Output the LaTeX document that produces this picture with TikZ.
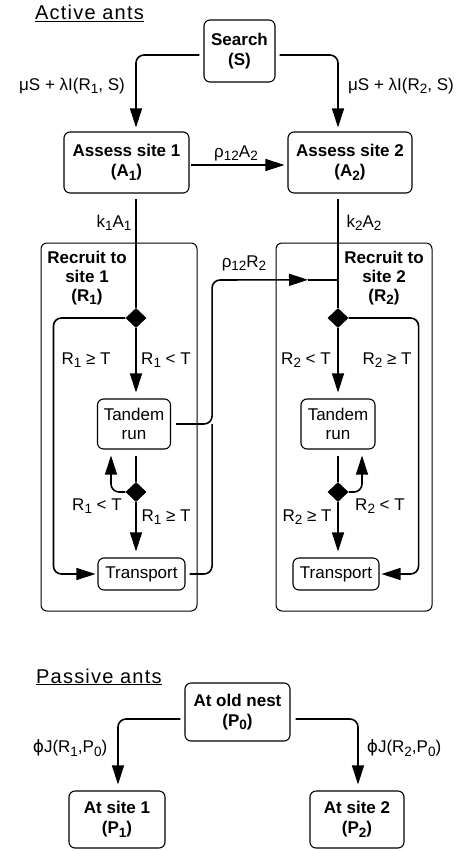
\documentclass[tikz,border=0pt]{standalone}
\usepackage{fontspec}
\setmainfont{Liberation Sans}
\newfontfamily\dvfont{DejaVu Sans}
\usetikzlibrary{arrows.meta,shapes.geometric,calc}
\newcommand\lo[1]{\raisebox{-0.4ex}{\fontsize{13.5}{13.5}\selectfont #1}}
\begin{document}
\begin{tikzpicture}[x=1pt,y=-1pt,
  box/.style={draw, line width=1.1pt, rounded corners=6pt, inner sep=0pt, align=center, font=\bfseries\fontsize{17}{20}\selectfont},
  rbox/.style={box, font=\fontsize{17}{19}\selectfont},
  bigbox/.style={draw, line width=1pt, rounded corners=6pt, inner sep=0pt},
  lbl/.style={font=\fontsize{17}{19}\selectfont, inner sep=0pt},
  ttl/.style={font=\bfseries\fontsize{17}{19}\selectfont, inner sep=0pt, align=center},
  head/.style={font=\fontsize{20}{22}\selectfont\addfontfeature{LetterSpace=6}, inner sep=0pt, anchor=base west},
  dia/.style={diamond, aspect=1, fill=black, inner sep=0pt, minimum width=21pt, minimum height=20pt},
  conn/.style={line width=1.6pt, rounded corners=8pt},
  arr/.style={conn, -{Triangle[length=19pt,width=12pt]}},
]
\useasboundingbox (0,0) rectangle (461,851);

% headings
\node[head] (hact) at (35,20) {\underline{Active ants}};
\node[head] (hpas) at (36,683) {\underline{Passive ants}};

% boxes
\node[box, minimum width=71pt, minimum height=62pt] (search) at (239.5,51) {Search\\(S)};
\node[box, minimum width=125pt, minimum height=61pt] (as1) at (126.5,162.5) {Assess site 1\\(A\lo{1})};
\node[box, minimum width=124pt, minimum height=61pt] (as2) at (350,162.5) {Assess site 2\\(A\lo{2})};
\node[bigbox, minimum width=156pt, minimum height=368pt] (rec1) at (119,427) {};
\node[bigbox, minimum width=156pt, minimum height=368pt] (rec2) at (354,427) {};
\node[ttl] (rt1) at (87,278) {Recruit to\\site 1\\(R\lo{1})};
\node[ttl] (rt2) at (384,278) {Recruit to\\site 2\\(R\lo{2})};
\node[dia] (d1) at (136,318) {};
\node[dia] (d2) at (338,318) {};
\node[rbox, minimum width=73pt, minimum height=50pt] (tr1) at (134,424) {Tandem\\run};
\node[rbox, minimum width=74pt, minimum height=50pt] (tr2) at (338,424) {Tandem\\run};
\node[dia] (e1) at (136,492) {};
\node[dia] (e2) at (338,492) {};
\node[rbox, minimum width=87pt, minimum height=32pt] (tp1) at (141.5,574) {Transport};
\node[rbox, minimum width=86pt, minimum height=32pt] (tp2) at (336,574) {Transport};
\node[box, minimum width=105pt, minimum height=58pt] (old) at (237.5,712) {At old nest\\(P\lo{0})};
\node[box, minimum width=96pt, minimum height=57pt] (s1) at (117,819.5) {At site 1\\(P\lo{1})};
\node[box, minimum width=94pt, minimum height=57pt] (s2) at (357,819.5) {At site 2\\(P\lo{2})};

% search -> assess
\draw[arr] ($(search.west)+(-4,4)$) -| ($(as1.north)+(9.5,-4)$);
\draw[arr] ($(search.east)+(4,4)$) -| ($(as2.north)+(-12,-4)$);
\node[lbl] (l1) at (72,86) {μS + λI(R\lo{1}, S)};
\node[lbl] (l2) at (401,86) {μS + λI(R\lo{2}, S)};

% assess1 -> assess2
\draw[arr] ($(as1.east)+(1,2.5)$) -- ($(as2.west)+(-3,2.5)$);
\node[lbl] (lr1) at (236,153) {ρ\lo{12}A\lo{2}};

% assess -> recruit diamonds
\draw[conn] ($(as1.south)+(9.5,5)$) -- (d1.north);
\draw[conn] ($(as2.south)+(-12,5)$) -- (d2.north);
\node[lbl] (lk1) at (114,223) {k\lo{1}A\lo{1}};
\node[lbl] (lk2) at (364,223) {k\lo{2}A\lo{2}};

% left recruit
\draw[arr] (d1.south) -- ($(d1.south |- tr1.north)+(0,-6)$);
\draw[arr] (d1.west) -| ($(tp1.west)+(-44,0)$) -- ($(tp1.west)+(-2,0)$);
\node[lbl] (a1) at (86,360) {R\lo{1} ≥ T};
\node[lbl] (a2) at (166,360) {R\lo{1} < T};
\draw[conn] ($(tr1.south -| e1.north)+(0,6)$) -- (e1.north);
\draw[arr] (e1.west) -| ($(tr1.south)+(-23,6)$);
\draw[arr] (e1.south) -- ($(e1.south |- tp1.north)+(0,-6)$);
\node[lbl] (a3) at (97,506) {R\lo{1} < T};
\node[lbl] (a4) at (166,517) {R\lo{1} ≥ T};

% right recruit
\draw[arr] (d2.south) -- ($(d2.south |- tr2.north)+(0,-6)$);
\draw[arr] (d2.east) -| ($(tp2.east)+(39,0)$) -- ($(tp2.east)+(2,0)$);
\node[lbl] (b1) at (306,360) {R\lo{2} < T};
\node[lbl] (b2) at (387,360) {R\lo{2} ≥ T};
\draw[conn] ($(tr2.south -| e2.north)+(0,6)$) -- (e2.north);
\draw[arr] (e2.east) -| ($(tr2.south)+(24,6)$);
\draw[arr] (e2.south) -- ($(e2.south |- tp2.north)+(0,-6)$);
\node[lbl] (b3) at (307,517) {R\lo{2} ≥ T};
\node[lbl] (b4) at (380,506) {R\lo{2} < T};

% cross link rho12 R2
\coordinate (jn) at ($(d2.north)+(0,-28)$);
\coordinate (mid) at ($(jn)+(-30,0)$);
\draw[arr] ($(tr1.east)+(5,0)$) -| ($(tr1.east)+(41,-144)$) -- (mid);
\draw[conn] (mid) -- (jn);
\draw[conn] ($(tp1.east)+(4,0)$) -| ($(tr1.east)+(41,0)$);
\node[lbl] (lr2) at (244,263) {ρ\lo{12}R\lo{2}};

% passive
\draw[arr] ($(old.west)+(-4,7)$) -| ($(s1.north)+(1,-6)$);
\draw[arr] ($(old.east)+(5,7)$) -| ($(s2.north)+(1,-6)$);
\node[lbl] (p1) at (70,748) {{\dvfont ϕ}J(R\lo{1},P\lo{0})};
\node[lbl] (p2) at (404,748) {{\dvfont ϕ}J(R\lo{2},P\lo{0})};
\end{tikzpicture}
\end{document}
